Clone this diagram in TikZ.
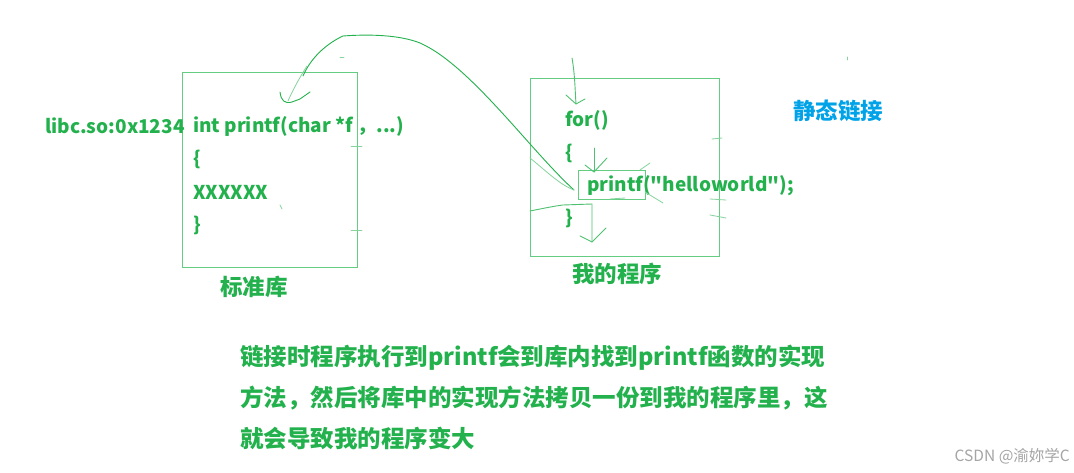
\documentclass[tikz,border=0pt]{standalone}
\usepackage{fontspec}
\setmainfont{Noto Sans CJK SC}[Ligatures=TeXOff]
\definecolor{hg}{RGB}{34,177,76}
\definecolor{boxg}{RGB}{100,205,130}
\definecolor{hb}{RGB}{0,162,232}
\definecolor{wm}{RGB}{165,165,165}
\begin{document}
\begin{tikzpicture}[x=1pt,y=-1pt,
 code/.style={anchor=west,inner sep=0pt,text=hg,font=\fontsize{19}{22}\selectfont\bfseries},
 lbl/.style={anchor=west,inner sep=0pt,text=hg,font=\fontsize{22.5}{26}\selectfont\bfseries},
 note/.style={anchor=west,inner sep=0pt,text=hg,font=\fontsize{23.5}{27}\selectfont\bfseries},
 frame/.style={draw=boxg,line width=1.1pt,inner sep=0pt,anchor=north west},
 hand/.style={draw=hg,line width=0.9pt,line cap=round,line join=round},
 faint/.style={draw=hg!55,line width=0.8pt,line cap=round,line join=round}]
\useasboundingbox[fill=white] (0,0) rectangle (1074,473);

% boxes
\node[frame,minimum width=175pt,minimum height=195pt] (libbox) at (182,72) {};
\node[frame,minimum width=189pt,minimum height=178pt] (progbox) at (530,78) {};
\node[frame,minimum width=67pt,minimum height=29pt] (pfbox) at (578,170) {};

% left code
\node[code] (addr) at (45,126) {libc.so:0x1234};
\node[code] (sig) at (193,126) {int printf(char *f ，...)};
\node[code] (lb1) at (193,159) {\{};
\node[code] (xx) at (193,192) {XXXXXX};
\node[code] (rb1) at (193,225) {\}};
\node[lbl] (stdlib) at (220,287) {标准库};

% right code
\node[code] (for) at (565,120) {for()};
\node[code] (lb2) at (565,153) {\{};
\node[code] (call) at (587,186) {printf("helloworld");};
\node[code] (rb2) at (565,218) {\}};
\node[lbl] (myprog) at (572,274) {我的程序};
\node[lbl,text=hb] (static) at (793,111) {静态链接};

% explanation
\node[note] (n1) at (240,358) {链接时程序执行到printf会到库内找到printf函数的实现};
\node[note] (n2) at (240,398) {方法，然后将库中的实现方法拷贝一份到我的程序里，这};
\node[note] (n3) at (240,438) {就会导致我的程序变大};

% watermark
\node[anchor=east,inner sep=0pt,text=wm,font=\fontsize{15.5}{18}\selectfont] (wmk) at (1070,456) {CSDN @渝妳学C};

% hand-drawn big arc from printf call back to library
\coordinate (arcS) at (574,190);
\coordinate (arcE) at (288,101);
\draw[hand] (arcS) .. controls (530,150) and (470,65) .. (420,43)
  .. controls (400,35) and (370,34) .. (343,36)
  .. controls (330,42) and (312,55) .. (303,76);
\draw[faint] (307,66) .. controls (298,80) and (292,92) .. (arcE);
\draw[hand] (280,92) .. controls (281,101) and (285,104) .. (292,102) -- (300,99) -- (310,92);
\draw[faint] (530,158) .. controls (545,170) and (560,185) .. (arcS);

% arrow into for()
\coordinate (a1s) at (572,58);
\coordinate (a1e) at (576,104);
\draw[hand,draw=hg!80] (a1s) .. controls (575,75) and (575,90) .. (a1e);
\draw[hand,draw=hg!80] (566,95) -- (a1e) -- (585,99);

% arrow into printf box
\coordinate (a2s) at (594,148);
\coordinate (a2e) at (594,172);
\draw[hand,draw=hg!80] (a2s) -- (a2e);
\draw[hand,draw=hg!80] (585,165) -- (a2e) -- (607,158);

% return arrow after printf
\coordinate (r0) at (530,211);
\coordinate (r1) at (563,205);
\coordinate (r2) at (592,204);
\coordinate (r3) at (592,242);
\draw[hand,draw=hg!80] (r0) .. controls (545,208) and (555,206) .. (r1) -- (r2) -- (r3);
\draw[hand,draw=hg!80] (580,236) -- (r3) -- (606,228);
\draw[faint] (610,199) -- (625,198);

% small strokes around printf box
\draw[faint] (640,170) -- (650,163);
\draw[faint] (645,192) -- (663,203);
\draw[faint] (710,199) -- (726,200);
\draw[faint] (710,215) -- (726,218);
\draw[faint] (712,139) -- (722,138);
\draw[faint] (351,146) -- (362,146);
\draw[faint] (351,230) -- (362,230);
\draw[faint] (280,205) -- (282,209);
\draw[faint] (847,57) -- (847,60);
\draw[faint] (340,57) -- (344,57);
\end{tikzpicture}
\end{document}
